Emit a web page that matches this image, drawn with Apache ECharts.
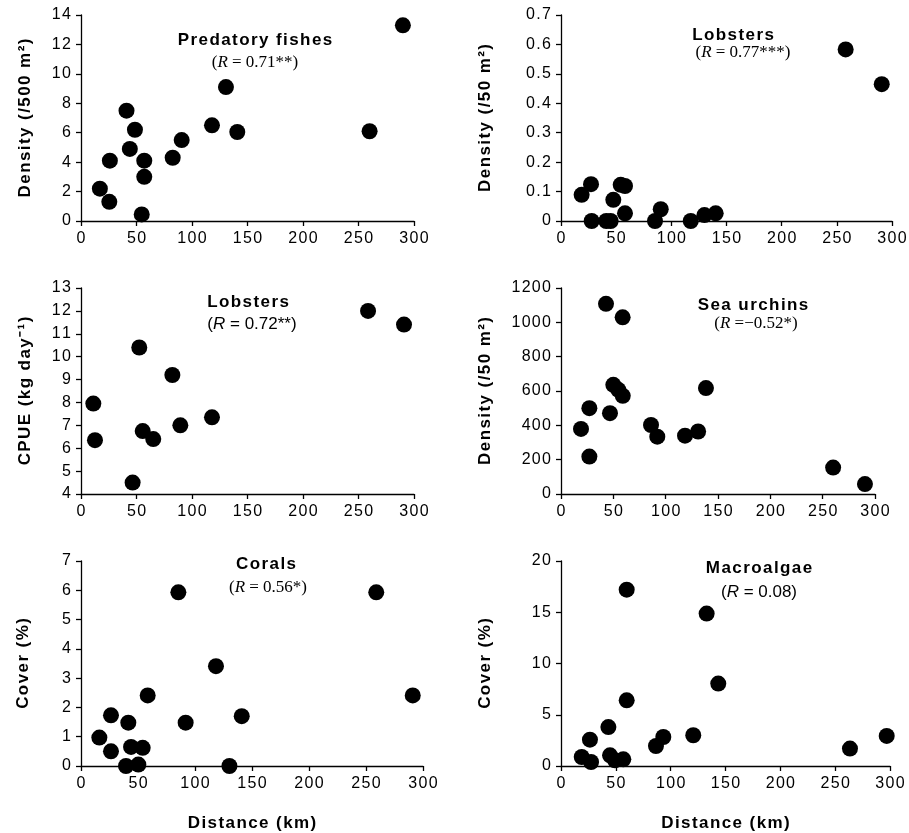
<!DOCTYPE html>
<html><head><meta charset="utf-8">
<script src="https://cdn.jsdelivr.net/npm/echarts@6/dist/echarts.min.js"></script>
<style>html,body{margin:0;padding:0;background:#fff}#c{width:909px;height:833px}</style>
</head><body><div id="c"></div>
<script>
// Panel 1: predatory fishes
const fishDist = [17, 25.5, 26, 41, 44, 48.6, 54.7, 57, 57, 82.6, 90.7, 118, 130.6, 140.8, 260, 290];
const fishDensity = [2.2, 1.3, 4.1, 7.5, 4.9, 6.2, 0.45, 4.1, 3.0, 4.3, 5.5, 6.5, 9.1, 6.05, 6.1, 13.3];
// Panel 2: lobster density
const lobDist = [18.7, 27.2, 27.8, 41, 45, 47.4, 54.1, 58, 58, 85.2, 90.4, 117.6, 130, 140.2, 258, 290.7];
const lobDensity = [0.089, 0.125, 0, 0, 0, 0.072, 0.123, 0.119, 0.026, 0, 0.04, 0, 0.02, 0.026, 0.583, 0.465];
// Panel 3: lobster CPUE
const cpueDist = [11.1, 12.6, 46.5, 52.5, 55.6, 65.1, 82.3, 89.5, 118, 258.6, 291];
const cpueValue = [7.95, 6.35, 4.5, 10.4, 6.75, 6.4, 9.2, 7.0, 7.35, 12.0, 11.4];
// Panel 4: sea urchins
const urchinDist = [19.1, 27.1, 27.1, 43, 46.8, 50, 54.8, 59, 58.9, 86, 92, 118.5, 131, 138.5, 260, 290.4];
const urchinDensity = [379, 500, 218, 1108, 471, 636, 607, 572, 1029, 402, 334, 340, 364, 617, 154, 58];
// Panel 5: corals
const coralDist = [16.1, 26.3, 26.3, 41.5, 43.9, 54.1, 39.5, 50.3, 58.5, 85.4, 91.8, 118.4, 130.2, 141, 259, 291];
const coralCover = [0.97, 1.73, 0.5, 1.48, 0.65, 0.62, 0, 0.05, 2.41, 5.93, 1.48, 3.41, 0, 1.7, 5.93, 2.41];
// Panel 6: macroalgae
const algaeDist = [18.9, 27.4, 26.4, 43.2, 44.7, 49.2, 56.8, 59.9, 59.9, 86.6, 93.3, 120.6, 132.8, 143.4, 263.5, 297];
const algaeCover = [0.88, 0.39, 2.57, 3.8, 1.04, 0.56, 0.65, 17.2, 6.41, 1.95, 2.83, 3.0, 14.87, 8.04, 1.7, 2.93];

const xRange = [0, 300, 50];
const yRanges = [[0, 14, 2], [0, 0.7, 0.1], [4, 13, 1], [0, 1200, 200], [0, 7, 1], [0, 20, 5]];
const yNames = ['Density (/500 m\u00B2)', 'Density (/50 m\u00B2)', 'CPUE (kg day\u207B\u00B9)', 'Density (/50 m\u00B2)', 'Cover (%)', 'Cover (%)'];
const xName = 'Distance (km)';
const titles = ['Predatory fishes', 'Lobsters', 'Lobsters', 'Sea urchins', 'Corals', 'Macroalgae'];
const stats = [[' = 0.71**', 'serif'], [' = 0.77***', 'serif'], [' = 0.72**', 'sans'], [' =\u22120.52*', 'serif'], [' = 0.56*', 'serif'], [' = 0.08', 'sans']];

const xs = [fishDist, lobDist, cpueDist, urchinDist, coralDist, algaeDist];
const ys = [fishDensity, lobDensity, cpueValue, urchinDensity, coralCover, algaeCover];

const grids = [
  {left: 81, top: 15, width: 333, height: 206},
  {left: 561, top: 15, width: 331, height: 206},
  {left: 81, top: 288, width: 333, height: 206},
  {left: 561, top: 288, width: 314, height: 206},
  {left: 81, top: 561, width: 342, height: 205},
  {left: 561, top: 561, width: 329, height: 205}
];
const nameGaps = [47, 67, 47, 67, 49, 67];
const titlePos = [[255, 40], [733, 35], [248, 302], [753, 305], [266, 564], [759, 568]];
const statPos = [[255, 63], [743, 53], [252, 324], [756, 324], [268, 588], [759, 592]];

const SANS = 'Liberation Sans, Arial, sans-serif';
const SERIF = 'Liberation Serif, Times New Roman, serif';
const sp = s => Array.from(s).join('\u200A');
const tickFmt = v => sp(String(+(+v).toFixed(6)));

const option = {
  animation: false,
  backgroundColor: '#fff',
  grid: grids.map(g => Object.assign({containLabel: false, outerBoundsMode: 'none'}, g)),
  xAxis: grids.map((g, i) => ({
    gridIndex: i, type: 'value', min: xRange[0], max: xRange[1], interval: xRange[2],
    axisLine: {onZero: false, lineStyle: {color: '#000', width: 1.3}},
    axisTick: {inside: false, length: 5, lineStyle: {color: '#000', width: 1.3}},
    splitLine: {show: false},
    axisLabel: {color: '#000', fontFamily: SANS, fontSize: 16, margin: 10, formatter: tickFmt},
    name: i >= 4 ? sp(xName) : '', nameLocation: 'middle', nameGap: 49,
    nameTextStyle: {color: '#000', fontFamily: SANS, fontSize: 17, fontWeight: 'bold'}
  })),
  yAxis: grids.map((g, i) => ({
    gridIndex: i, type: 'value', min: yRanges[i][0], max: yRanges[i][1], interval: yRanges[i][2],
    axisLine: {show: true, onZero: false, lineStyle: {color: '#000', width: 1.3}},
    axisTick: {show: true, inside: false, length: 5, lineStyle: {color: '#000', width: 1.3}},
    splitLine: {show: false},
    axisLabel: {color: '#000', fontFamily: SANS, fontSize: 16, margin: 10, formatter: tickFmt},
    name: sp(yNames[i]), nameLocation: 'middle', nameGap: nameGaps[i],
    nameTextStyle: {color: '#000', fontFamily: SANS, fontSize: 17, fontWeight: 'bold'}
  })),
  series: xs.map((xv, i) => ({
    type: 'scatter', xAxisIndex: i, yAxisIndex: i, clip: false,
    symbol: 'circle', symbolSize: 16,
    itemStyle: {color: '#000', opacity: 1},
    data: xv.map((x, k) => [x, ys[i][k]])
  })),
  graphic: titles.map((t, i) => ({
    type: 'text', x: titlePos[i][0], y: titlePos[i][1],
    style: {text: sp(t), fill: '#000', font: 'bold 17px ' + SANS, textAlign: 'center', textVerticalAlign: 'middle'}
  })).concat(stats.map((s, i) => {
    const fam = s[1] === 'serif' ? SERIF : SANS;
    return {
      type: 'text', x: statPos[i][0], y: statPos[i][1],
      style: {
        text: '{p|(}{i|R}{p|' + s[0] + ')}',
        textAlign: 'center', textVerticalAlign: 'middle',
        rich: {
          p: {fontFamily: fam, fontSize: 17, fill: '#000', color: '#000'},
          i: {fontFamily: fam, fontSize: 17, fontStyle: 'italic', fill: '#000', color: '#000'}
        }
      }
    };
  }))
};
const chart = echarts.init(document.getElementById('c'));
chart.setOption(option);
</script></body></html>
